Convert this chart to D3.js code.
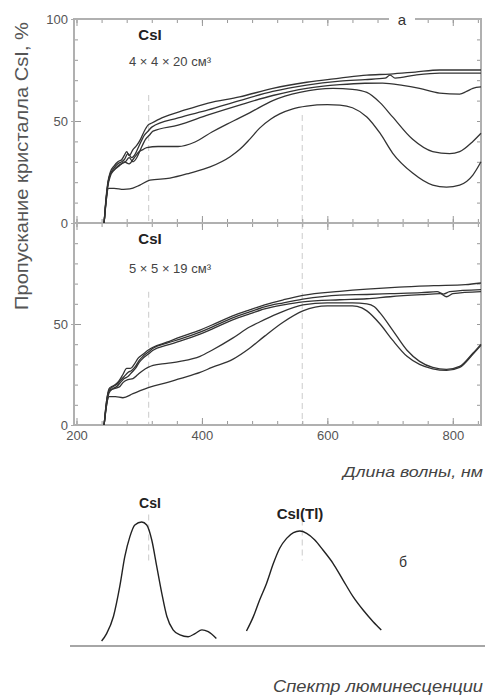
<!DOCTYPE html>
<html>
<head>
<meta charset="utf-8">
<script src="https://cdn.jsdelivr.net/npm/d3@7"></script>
<style>
body { margin: 0; background: #fff; }
text { font-family: "Liberation Sans", Arial, sans-serif; }
</style>
</head>
<body>
<div id="chart"></div>
<script>
// transmission, crystal 4x4x20 (nm, %)
var topA = [[244,0],[247,12],[250,20],[254,25],[260,28],[266,30],[272,31],[276,33],[280,35],[284,33],[290,36],[296,38],[302,41],[308,45],[314,48],[320,49],[336,51.5],[373,55.4],[410,58.8],[460,61.8],[513,66],[567,69],[620,71],[663,72.5],[700,73],[740,74],[779,75],[845,75]];
var topB = [[244,0],[247,11],[250,19],[254,24],[260,27],[266,29],[272,30],[276,31],[282,34],[288,32],[294,34],[300,38],[308,43],[314,45],[320,47],[362,51.5],[410,55.4],[460,60],[513,64.5],[567,67.6],[620,69.5],[660,70.3],[692,71],[700,72.5],[708,71],[740,72.5],[779,73.5],[845,73.5]];
var topC = [[244,0],[247,10],[250,18],[254,23],[260,26],[266,28],[272,29],[278,30],[284,32],[290,30],[296,32],[302,36],[310,41],[316,43],[322,45],[362,48],[410,53],[460,57.8],[513,62.5],[567,66],[620,67.8],[660,68.5],[688,68.6],[720,67.5],[747,66],[779,63.7],[811,63.2],[822,64.5],[832,66],[845,66.7]];
var topD = [[244,0],[247,11],[250,19],[254,24],[260,26],[268,28],[276,30],[284,29],[292,32],[300,35],[306,36],[312,37],[330,37.5],[362,37.5],[389,39.7],[416,44.6],[440,48.5],[460,51.5],[476,54],[513,60],[556,64],[609,66],[640,65.5],[663,64],[684,59],[704,52],[736,41],[768,35],[795,34],[811,35],[832,40],[845,44]];
var topE = [[244,0],[247,10],[251,17],[260,17],[275,16.5],[285,16.7],[301,18.6],[317,21],[349,22],[381,24.5],[413,27.5],[445,32.5],[460,36],[476,41],[492,46.5],[510,51],[524,53.5],[545,56],[567,57.3],[600,58],[620,57.8],[640,56.5],[663,52],[684,44],[704,34.3],[736,24.5],[768,18.6],[790,17.6],[811,18.6],[832,23.5],[845,30]];

// transmission, crystal 5x5x19 (nm, %)
var botA = [[244,0],[248,12],[252,18],[256,19],[262,20],[268,22],[274,25],[280,28],[286,28],[292,30],[298,33],[306,35],[314,37],[322,38.5],[344,41],[365,43.5],[397,47],[416,49.5],[449,54],[476,57],[500,59.5],[530,62],[561,64.2],[620,66.2],[663,67.3],[714,68.3],[770,69],[820,69.5],[845,70.3]];
var botB = [[244,0],[248,11],[252,17],[258,19],[264,20],[270,22],[276,24],[282,26],[288,27],[294,29],[300,32],[306,34],[314,36],[322,38],[344,40.5],[365,42.5],[397,46],[416,48.5],[449,53],[476,56],[500,58.5],[530,60.5],[561,62.3],[620,64.3],[663,64.6],[700,65],[750,65.5],[775,66],[785,64.8],[795,66],[845,67]];
var botC = [[244,0],[248,10],[252,16],[258,18],[264,19],[270,21],[276,23],[282,24],[288,26],[294,28],[300,31],[306,33],[314,35],[322,37],[344,39.5],[365,41.5],[397,45],[416,47.5],[449,52],[476,55],[500,57.5],[530,59.5],[561,61],[620,62],[663,62.5],[700,63.5],[750,64.5],[780,65],[790,63.5],[800,65],[845,66]];
var botD = [[244,0],[248,12],[252,17],[260,18],[269,19],[274,21],[282,22.5],[290,23],[298,25],[306,27],[314,28.5],[322,29.5],[344,30.5],[365,31.5],[397,34],[416,37],[449,43],[476,48.5],[492,51],[520,55],[561,59.5],[600,60.5],[640,60.5],[663,60],[675,58.5],[684,55.5],[704,47],[727,37],[747,31.5],[768,28.5],[790,27.5],[811,29],[832,35.5],[845,40]];
var botE = [[244,0],[248,10],[252,14],[262,14],[274,13.5],[290,15.5],[306,17.5],[317,18.8],[344,21],[365,23],[397,26],[416,28.5],[449,32.5],[476,38],[500,44],[530,51],[561,56.5],[600,59],[640,59],[655,58],[663,56.5],[684,50],[704,42],[727,34],[747,30],[768,27.8],[790,27],[811,28.5],[832,35],[845,39.5]];

// luminescence spectra (nm, relative)
var lumCsI = [[240,0.04],[248,0.10],[259,0.24],[269,0.48],[277,0.72],[285,0.88],[293,0.976],[304,1.0],[312,0.976],[320,0.855],[328,0.64],[336,0.425],[344,0.24],[354,0.13],[365,0.09],[378,0.075],[389,0.10],[400,0.13],[410,0.115],[423,0.06]];
var lumTl = [[471,0.121],[482,0.237],[492,0.371],[503,0.505],[514,0.667],[524,0.788],[535,0.868],[546,0.914],[556,0.927],[567,0.909],[580,0.855],[593,0.774],[609,0.667],[625,0.532],[641,0.398],[657,0.29],[673,0.196],[686,0.129]];

var peaks = [315, 560];
var xMajor = [200, 400, 600, 800];
var xMinor = d3.range(200, 850, 40);
var yMinor = d3.range(0, 101, 10);

var width = 486, height = 698;
var svg = d3.select("#chart").append("svg")
	.attr("width", width)
	.attr("height", height);

var x = d3.scaleLinear().domain([196, 845]).range([74, 481]);
var yTop = d3.scaleLinear().domain([0, 100]).range([223, 19]);
var yBot = d3.scaleLinear().domain([0, 100]).range([425, 223]);
var yLum = d3.scaleLinear().domain([0, 1]).range([646, 522]);

// dashed peak markers
var dash = [[yTop, 62.7, 0, 0], [yTop, 53, 0, 1], [yBot, 66, 0, 0], [yBot, 100, 0, 1], [yLum, 1.06, 0.69, 0], [yLum, 1.02, 0.69, 1]];
svg.selectAll(".peak").data(dash).enter().append("line")
	.attr("class", "peak")
	.attr("x1", function(d){ return x(peaks[d[3]]); })
	.attr("x2", function(d){ return x(peaks[d[3]]); })
	.attr("y1", function(d){ return d[0](d[1]); })
	.attr("y2", function(d){ return d[0](d[2]); })
	.attr("stroke", "#d4d4d4")
	.attr("stroke-width", 1.2)
	.attr("stroke-dasharray", "6,4");

function drawTicks(y, top, bottom) {
	var g = svg.append("g").attr("class", "ticks").attr("color", "#999");
	g.append("g").attr("transform", "translate(74,0)")
		.call(d3.axisRight(y).tickValues(yMinor).tickSize(4).tickFormat(""));
	g.append("g").attr("transform", "translate(74,0)")
		.call(d3.axisRight(y).tickValues([0, 50, 100]).tickSize(7).tickFormat(""));
	g.append("g").attr("transform", "translate(481,0)")
		.call(d3.axisLeft(y).tickValues(yMinor).tickSize(4).tickFormat(""));
	g.append("g").attr("transform", "translate(0," + top + ")")
		.call(d3.axisBottom(x).tickValues(xMinor).tickSize(4).tickFormat(""));
	g.append("g").attr("transform", "translate(0," + top + ")")
		.call(d3.axisBottom(x).tickValues(xMajor).tickSize(7).tickFormat(""));
	g.append("g").attr("transform", "translate(0," + bottom + ")")
		.call(d3.axisTop(x).tickValues(xMinor).tickSize(4).tickFormat(""));
	g.append("g").attr("transform", "translate(0," + bottom + ")")
		.call(d3.axisTop(x).tickValues(xMajor).tickSize(7).tickFormat(""));
	g.selectAll(".domain").remove();
}
drawTicks(yTop, 19, 223);
drawTicks(yBot, 223, 425);

// frame
svg.append("rect")
	.attr("x", 74).attr("y", 19)
	.attr("width", 407).attr("height", 406)
	.attr("fill", "none")
	.attr("stroke", "#b0b0b0")
	.attr("stroke-width", 2);
svg.append("line")
	.attr("x1", 74).attr("x2", 481)
	.attr("y1", yTop(0)).attr("y2", yTop(0))
	.attr("stroke", "#b0b0b0")
	.attr("stroke-width", 2);

// tick labels
function styleLabels(g) {
	g.select(".domain").remove();
	g.selectAll("line").attr("stroke", "#aaa");
	g.selectAll("text")
		.attr("fill", "#555")
		.style("font-size", "13px")
		.style("font-family", "'Liberation Sans', Arial, sans-serif");
}
svg.append("g").attr("transform", "translate(74,0)")
	.call(d3.axisLeft(yTop).tickValues([0, 50, 100]).tickSize(3).tickPadding(3))
	.call(styleLabels);
svg.append("g").attr("transform", "translate(74,0)")
	.call(d3.axisLeft(yBot).tickValues([0, 50]).tickSize(3).tickPadding(3))
	.call(styleLabels);
svg.append("g").attr("transform", "translate(0,425)")
	.call(d3.axisBottom(x).tickValues(xMajor).tickSize(0).tickPadding(6))
	.call(styleLabels);

// curves
var line = d3.line()
	.x(function(d){ return x(d[0]); })
	.curve(d3.curveMonotoneX);

var topCurves = [topA, topB, topC, topD, topE];
var botCurves = [botA, botB, botC, botD, botE];

svg.selectAll(".top-curve").data(topCurves).enter().append("path")
	.attr("class", "top-curve")
	.attr("fill", "none")
	.attr("stroke", "#333")
	.attr("stroke-width", 1.3)
	.attr("d", function(d){ return line.y(function(p){ return yTop(p[1]); })(d); });

svg.selectAll(".bot-curve").data(botCurves).enter().append("path")
	.attr("class", "bot-curve")
	.attr("fill", "none")
	.attr("stroke", "#333")
	.attr("stroke-width", 1.3)
	.attr("d", function(d){ return line.y(function(p){ return yBot(p[1]); })(d); });

svg.selectAll(".lum").data([lumCsI, lumTl]).enter().append("path")
	.attr("class", "lum")
	.attr("fill", "none")
	.attr("stroke", "#222")
	.attr("stroke-width", 1.4)
	.attr("d", function(d){ return line.y(function(p){ return yLum(p[1]); })(d); });

// luminescence baseline
svg.append("line")
	.attr("x1", 70).attr("x2", 485)
	.attr("y1", 646).attr("y2", 646)
	.attr("stroke", "#888")
	.attr("stroke-width", 1.3);

// texts
svg.append("text")
	.attr("transform", "translate(28,166) rotate(-90)")
	.attr("text-anchor", "middle")
	.attr("fill", "#555")
	.attr("textLength", 288)
	.attr("lengthAdjust", "spacingAndGlyphs")
	.style("font-size", "18px")
	.text("Пропускание кристалла CsI, %");

svg.append("rect")
	.attr("x", 389).attr("y", 12)
	.attr("width", 26).attr("height", 14)
	.attr("fill", "#fff");
svg.append("text")
	.attr("x", 402).attr("y", 25)
	.attr("text-anchor", "middle")
	.attr("fill", "#333")
	.style("font-size", "15px")
	.text("а");

var labels = [
	["CsI", 150, 40, 15, "bold", "#222"],
	["4 × 4 × 20 см³", 170, 66, 13, "normal", "#444"],
	["CsI", 150, 244, 15, "bold", "#222"],
	["5 × 5 × 19 см³", 170, 273, 13, "normal", "#444"],
	["CsI", 150, 508, 14, "bold", "#222"],
	["CsI(Tl)", 300, 519, 15, "bold", "#222"],
	["б", 403, 567, 14, "normal", "#333"]
];
svg.selectAll(".lbl").data(labels).enter().append("text")
	.attr("class", "lbl")
	.attr("x", function(d){ return d[1]; })
	.attr("y", function(d){ return d[2]; })
	.attr("text-anchor", "middle")
	.attr("fill", function(d){ return d[5]; })
	.style("font-size", function(d){ return d[3] + "px"; })
	.style("font-weight", function(d){ return d[4]; })
	.text(function(d){ return d[0]; });

svg.append("text")
	.attr("x", 483).attr("y", 477)
	.attr("text-anchor", "end")
	.attr("fill", "#444")
	.attr("textLength", 140)
	.attr("lengthAdjust", "spacingAndGlyphs")
	.style("font-size", "15px")
	.style("font-style", "italic")
	.text("Длина волны, нм");

svg.append("text")
	.attr("x", 483).attr("y", 692)
	.attr("text-anchor", "end")
	.attr("fill", "#444")
	.attr("textLength", 210)
	.attr("lengthAdjust", "spacingAndGlyphs")
	.style("font-size", "16px")
	.style("font-style", "italic")
	.text("Спектр люминесценции");
</script>
</body>
</html>
